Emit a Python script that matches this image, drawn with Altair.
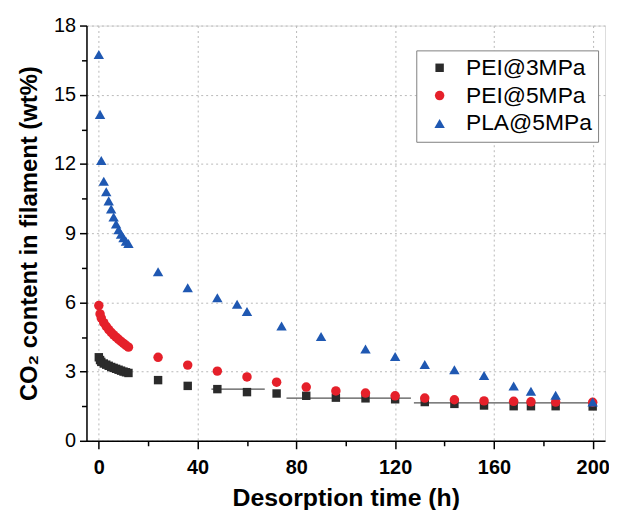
import altair as alt
import pandas as pd

# ---- data ----
series_names = ["PEI@3MPa", "PEI@5MPa", "PLA@5MPa"]

t_early = [0, 0.5, 1, 2, 3, 4, 5, 6, 7, 8, 9, 10, 11, 12]

pei3_t = t_early + [24, 36, 48, 60, 72, 84, 96, 108, 120, 132, 144, 156, 168, 175, 185, 200]
pei3_v = [3.62, 3.50, 3.42, 3.35, 3.30, 3.25, 3.20, 3.16, 3.12, 3.08, 3.04, 3.00, 2.97, 2.94,
          2.63, 2.38, 2.24, 2.11, 2.05, 1.95, 1.87, 1.84, 1.80, 1.68, 1.60, 1.53, 1.50, 1.50, 1.50, 1.49]

pei5_t = t_early + [24, 36, 48, 60, 72, 84, 96, 108, 120, 132, 144, 156, 168, 175, 185, 200]
pei5_v = [5.86, 5.50, 5.32, 5.12, 4.96, 4.82, 4.70, 4.59, 4.49, 4.40, 4.31, 4.22, 4.14, 4.06,
          3.62, 3.28, 3.02, 2.77, 2.54, 2.33, 2.16, 2.07, 1.95, 1.85, 1.78, 1.73, 1.71, 1.69, 1.68, 1.67]

pla_t = t_early + [24, 36, 48, 56, 60, 74, 90, 108, 120, 132, 144, 156, 168, 175, 185, 200]
pla_v = [16.75, 14.15, 12.15, 11.25, 10.80, 10.40, 10.05, 9.70, 9.40, 9.15, 8.95, 8.80, 8.65, 8.55,
         7.33, 6.63, 6.20, 5.92, 5.60, 4.98, 4.52, 3.98, 3.65, 3.31, 3.08, 2.83, 2.38, 2.15, 1.97, 1.68]

# horizontal segments drawn in the figure
seg_x1 = [45.6, 76.0, 127.6]
seg_x2 = [67.2, 126.4, 201.6]
seg_y = [2.24, 1.85, 1.64]

x_major = [0, 40, 80, 120, 160, 200]
x_minor = [20, 60, 100, 140, 180]
y_major = [0, 3, 6, 9, 12, 15, 18]
y_minor = [1.5, 4.5, 7.5, 10.5, 13.5, 16.5]

colors = ["#2b2b2b", "#e5202a", "#1f58b2"]
shapes = ["square", "circle", "triangle-up"]
sizes = [72, 110, 165]

rows = []
for name, ts, vs in [(series_names[0], pei3_t, pei3_v),
                     (series_names[1], pei5_t, pei5_v),
                     (series_names[2], pla_t, pla_v)]:
    for t, v in zip(ts, vs):
        rows.append({"series": name, "t": t, "v": v})
df = pd.DataFrame(rows)
seg_df = pd.DataFrame({"x1": seg_x1, "x2": seg_x2, "y": seg_y})

FONT = "Liberation Sans"
xscale = alt.Scale(domain=[-5, 205], nice=False, zero=False)
yscale = alt.Scale(domain=[0, 18], nice=False, zero=False)

grid_kw = dict(grid=True, gridColor="#b8b8b8", gridDash=[2, 3], gridWidth=1)

segs = alt.Chart(seg_df).mark_rule(color="#555555", strokeWidth=1.2).encode(
    x=alt.X("x1:Q", scale=xscale,
            axis=alt.Axis(values=x_major, title="Desorption time (h)", orient="bottom",
                          labelFont=FONT, labelFontSize=20, labelFontWeight="bold",
                          labelColor="black", tickColor="black", tickSize=8, tickWidth=1.5,
                          domainColor="black", domainWidth=1.5, labelPadding=9,
                          titleFont=FONT, titleFontSize=25, titleFontWeight="bold",
                          titleColor="black", titlePadding=8, **grid_kw)),
    x2="x2:Q",
    y=alt.Y("y:Q", scale=yscale,
            axis=alt.Axis(values=y_major, title="CO₂ content in filament (wt%)", orient="left",
                          labelFont=FONT, labelFontSize=20, labelFontWeight="normal",
                          labelColor="black", tickColor="black", tickSize=7, tickWidth=1.5,
                          domainColor="black", domainWidth=1.5, labelPadding=4,
                          titleFont=FONT, titleFontSize=24, titleFontWeight="bold",
                          titleColor="black", titlePadding=12, **grid_kw)),
)

minor = alt.Chart(df).mark_point(opacity=0).encode(
    x=alt.X("t:Q", scale=xscale,
            axis=alt.Axis(values=x_minor, title=None, orient="bottom", labels=False,
                          grid=False, domain=False, tickColor="black", tickSize=5, tickWidth=1.5)),
    y=alt.Y("v:Q", scale=yscale,
            axis=alt.Axis(values=y_minor, title=None, orient="left", labels=False,
                          grid=False, domain=False, tickColor="black", tickSize=5, tickWidth=1.5)),
)

leg = alt.Legend(title=None, orient="none", legendX=332, legendY=25,
                 fillColor="white", strokeColor="#808080",
                 padding=6, symbolOffset=6, labelOffset=15, rowPadding=4,
                 labelFont=FONT, labelFontSize=23, labelColor="black",
                 symbolSize=110, symbolStrokeWidth=0)

points = alt.Chart(df).mark_point(filled=True, opacity=1, strokeWidth=0).encode(
    x=alt.X("t:Q", scale=xscale, axis=None),
    y=alt.Y("v:Q", scale=yscale, axis=None),
    color=alt.Color("series:N", scale=alt.Scale(domain=series_names, range=colors), legend=leg),
    shape=alt.Shape("series:N", scale=alt.Scale(domain=series_names, range=shapes), legend=leg),
    size=alt.Size("series:N", scale=alt.Scale(domain=series_names, range=sizes), legend=None),
    order=alt.Order("ord:Q"),
).transform_calculate(
    ord="datum.series === 'PEI@3MPa' ? 0 : (datum.series === 'PEI@5MPa' ? 1 : 2)"
)

chart = alt.layer(segs, minor, points).resolve_axis(
    x="independent", y="independent"
).properties(
    width=522, height=418,
    autosize=alt.AutoSizeParams(type="none"),
    padding={"left": 79, "top": 16, "right": 4, "bottom": 68},
).configure_view(
    stroke="black", strokeWidth=1.5
).configure(background="white")

chart.save("out.html", embed_options={"renderer": "svg", "actions": False})
